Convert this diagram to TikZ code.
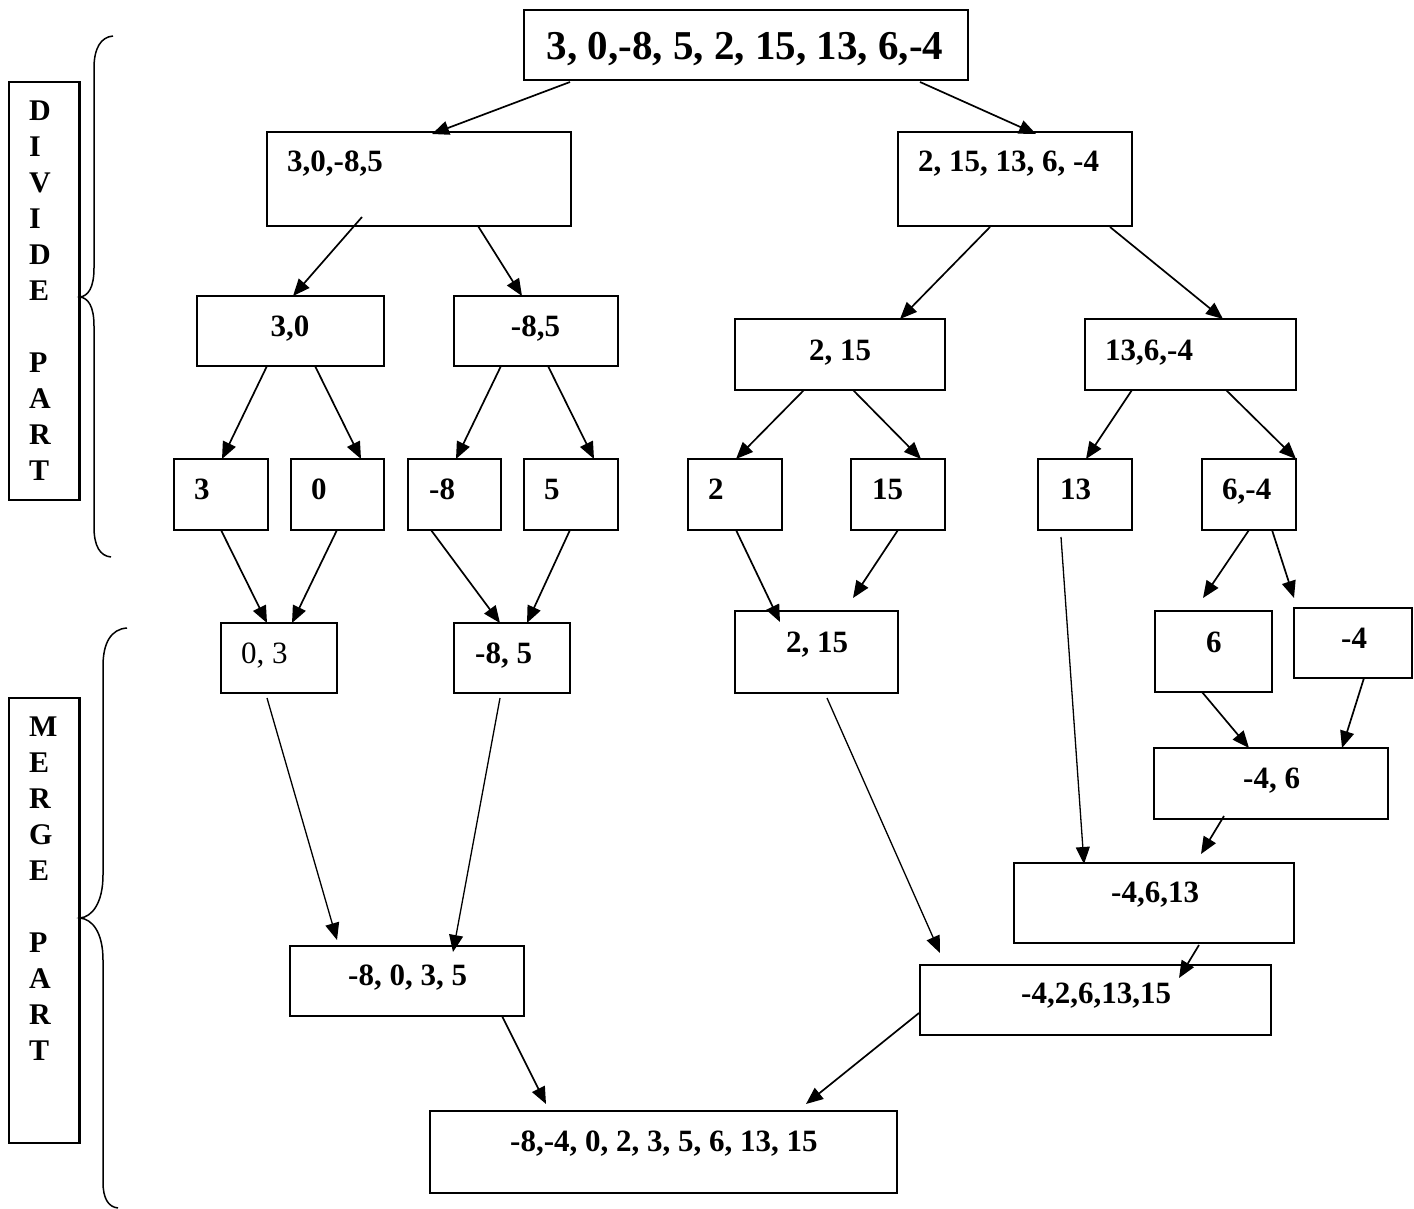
\documentclass[tikz,border=0pt]{standalone}
\usepackage{fontspec}
\setmainfont{Liberation Serif}
\usetikzlibrary{arrows.meta,calc,fit}
\begin{document}
\begin{tikzpicture}[x=1pt,y=-1pt,
  box/.style={draw, line width=2.2pt, inner sep=0pt, outer sep=0pt},
  lbl/.style={inner sep=0pt, font=\fontsize{31}{36}\selectfont\bfseries},
  vlbl/.style={inner sep=0pt, align=left, font=\fontsize{30}{36}\selectfont\bfseries},
  arr/.style={line width=1.7pt, -{Triangle[length=17pt,width=14pt]}},
  longarr/.style={arr, line width=1.3pt},
  bracestyle/.style={line width=1.5pt}]
\useasboundingbox (0,0) rectangle (1414,1209);

% side boxes
\node[box, fit={(9,82) (79.5,500)}] (dbox) {};
\node[vlbl, anchor=north west] (dtxt) at (29,101) {D\\I\\V\\I\\D\\E\\[36pt]P\\A\\R\\T};
\node[box, fit={(9,698) (79.5,1143)}] (mbox) {};
\node[vlbl, anchor=north west] (mtxt) at (29,717) {M\\E\\R\\G\\E\\[36pt]P\\A\\R\\T};

% braces
\draw[bracestyle] (113,36) .. controls (101,37) and (94,48) .. (94,68) -- (94,268)
  .. controls (94,288) and (88,296) .. (80,297) .. controls (88,298) and (94,306) .. (94,326)
  -- (94,527) .. controls (94,546) and (100,556) .. (111,557);
\draw[bracestyle] (127,628) .. controls (111,629) and (103,643) .. (103,666) -- (103,875)
  .. controls (103,903) and (92,917) .. (80,918) .. controls (92,919) and (103,932) .. (103,960)
  -- (103,1182) .. controls (103,1198) and (108,1207) .. (118,1208);

% divide part boxes
\node[box, fit={(524,10) (968,80)}] (top) {};
\node[lbl, anchor=base, font=\fontsize{41}{48}\selectfont\bfseries] (ttop) at (745,60) {3, 0,-8, 5, 2, 15, 13, 6,-4};

\node[box, fit={(267,132) (571,226)}] (l1a) {};
\node[lbl, anchor=base west] (tl1a) at (287,172) {3,0,-8,5};
\node[box, fit={(898,132) (1132,226)}] (l1b) {};
\node[lbl, anchor=base west] (tl1b) at (918,172) {2, 15, 13, 6, -4};

\node[box, fit={(197,296) (384,366)}] (l2a) {};
\node[lbl, anchor=base] (tl2a) at (290,336) {3,0};
\node[box, fit={(454,296) (618,366)}] (l2b) {};
\node[lbl, anchor=base] (tl2b) at (535.5,336) {-8,5};
\node[box, fit={(735,319) (945,390)}] (l2c) {};
\node[lbl, anchor=base] (tl2c) at (840,360) {2, 15};
\node[box, fit={(1085,319) (1296,390)}] (l2d) {};
\node[lbl, anchor=base west] (tl2d) at (1105,360) {13,6,-4};

\node[box, fit={(174,459) (268,530)}] (l3a) {};
\node[lbl, anchor=base west] (tl3a) at (194,499) {3};
\node[box, fit={(291,459) (384,530)}] (l3b) {};
\node[lbl, anchor=base west] (tl3b) at (311,499) {0};
\node[box, fit={(408,459) (501,530)}] (l3c) {};
\node[lbl, anchor=base west] (tl3c) at (429,499) {-8};
\node[box, fit={(524,459) (618,530)}] (l3d) {};
\node[lbl, anchor=base west] (tl3d) at (544,499) {5};
\node[box, fit={(688,459) (782,530)}] (l3e) {};
\node[lbl, anchor=base west] (tl3e) at (708,499) {2};
\node[box, fit={(851,459) (945,530)}] (l3f) {};
\node[lbl, anchor=base west] (tl3f) at (872,499) {15};
\node[box, fit={(1038,459) (1132,530)}] (l3g) {};
\node[lbl, anchor=base west] (tl3g) at (1060,499) {13};
\node[box, fit={(1202,459) (1296,530)}] (l3h) {};
\node[lbl, anchor=base west] (tl3h) at (1222,499) {6,-4};

% merge part boxes
\node[box, fit={(221,623) (337,693)}] (m1) {};
\node[lbl, anchor=base west, font=\fontsize{31}{36}\selectfont\mdseries] (tm1) at (241,663) {0, 3};
\node[box, fit={(454,623) (570,693)}] (m2) {};
\node[lbl, anchor=base west] (tm2) at (475,663) {-8, 5};
\node[box, fit={(735,611) (898,693)}] (m3) {};
\node[lbl, anchor=base west] (tm3) at (786,652) {2, 15};
\node[box, fit={(1155,611) (1272,692)}] (m4) {};
\node[lbl, anchor=base west] (tm4) at (1206,652) {6};
\node[box, fit={(1294,608) (1412,678)}] (m5) {};
\node[lbl, anchor=base west] (tm5) at (1341,648) {-4};
\node[box, fit={(1154,748) (1388,819)}] (m6) {};
\node[lbl, anchor=base west] (tm6) at (1243,788) {-4, 6};
\node[box, fit={(1014,863) (1294,943)}] (m7) {};
\node[lbl, anchor=base west] (tm7) at (1111,902) {-4,6,13};
\node[box, fit={(290,946) (524,1016)}] (m8) {};
\node[lbl, anchor=base west] (tm8) at (348,985) {-8, 0, 3, 5};
\node[box, fit={(920,965) (1271,1035)}] (m9) {};
\node[lbl, anchor=base west] (tm9) at (1021,1003) {-4,2,6,13,15};
\node[box, fit={(430,1111) (897,1193)}] (fin) {};
\node[lbl, anchor=base west] (tfin) at (510,1151) {-8,-4, 0, 2, 3, 5, 6, 13, 15};

% divide arrows
\draw[arr] ($(top.south west)+(46,2)$) -- ($(l1a.north west)+(165,2)$);
\draw[arr] ($(top.south west)+(396,2)$) -- ($(l1b.north west)+(138,2)$);
\draw[arr] ($(l1a.south west)+(95,-9)$) -- ($(l2a.north west)+(96,0)$);
\draw[arr] ($(l1a.south west)+(211,0)$) -- ($(l2b.north west)+(68,0)$);
\draw[arr] ($(l1b.south west)+(92,1)$) -- ($(l2c.north west)+(165,0)$);
\draw[arr] ($(l1b.south west)+(212,1)$) -- ($(l2d.north west)+(138,0)$);
\draw[arr] ($(l2a.south west)+(70,0)$) -- ($(l3a.north west)+(48,0)$);
\draw[arr] ($(l2a.south west)+(118,0)$) -- ($(l3b.north west)+(70,0)$);
\draw[arr] ($(l2b.south west)+(47,0)$) -- ($(l3c.north west)+(48,0)$);
\draw[arr] ($(l2b.south west)+(94,0)$) -- ($(l3d.north west)+(70,0)$);
\draw[arr] ($(l2c.south west)+(69,0)$) -- ($(l3e.north west)+(48,0)$);
\draw[arr] ($(l2c.south west)+(118,0)$) -- ($(l3f.north west)+(70,0)$);
\draw[arr] ($(l2d.south west)+(47,0)$) -- ($(l3g.north west)+(48,0)$);
\draw[arr] ($(l2d.south west)+(141,0)$) -- ($(l3h.north west)+(94,0)$);

% merge arrows
\draw[arr] ($(l3a.south west)+(47,0)$) -- ($(m1.north west)+(46,0)$);
\draw[arr] ($(l3b.south west)+(46,0)$) -- ($(m1.north west)+(71,0)$);
\draw[arr] ($(l3c.south west)+(23,0)$) -- ($(m2.north west)+(46,0)$);
\draw[arr] ($(l3d.south west)+(46,0)$) -- ($(m2.north west)+(73,0)$);
\draw[arr] ($(l3e.south west)+(48,0)$) -- ($(m3.north west)+(45,11)$);
\draw[arr] ($(l3f.south west)+(47,0)$) -- ($(m3.north west)+(118,-13)$);
\draw[longarr] ($(l3g.south west)+(23,7)$) -- ($(m7.north west)+(70,1)$);
\draw[arr] ($(l3h.south west)+(47,0)$) -- ($(m4.north west)+(48,-13)$);
\draw[arr] ($(l3h.south west)+(70,0)$) -- ($(m5.north west)+(0,-10)$);
\draw[arr] ($(m4.south west)+(47,0)$) -- ($(m6.north west)+(95,0)$);
\draw[arr] ($(m5.south west)+(70,0)$) -- ($(m6.north west)+(188,0)$);
\draw[arr] ($(m6.south west)+(70,-3)$) -- ($(m7.north west)+(187,-9)$);
\draw[longarr] ($(m1.south west)+(46,5)$) -- ($(m8.north west)+(47,-6)$);
\draw[longarr] ($(m2.south west)+(46,5)$) -- ($(m8.north west)+(163,6)$);
\draw[longarr] ($(m3.south west)+(92,5)$) -- ($(m9.north west)+(20,-12)$);
\draw[arr] ($(m7.south west)+(185,2)$) -- ($(m9.north west)+(259,13)$);
\draw[arr] ($(m8.south west)+(212,0)$) -- ($(fin.north west)+(116,-7)$);
\draw[arr] ($(m9.south west)+(-1,-22)$) -- ($(fin.north west)+(376,-7)$);
\end{tikzpicture}
\end{document}
